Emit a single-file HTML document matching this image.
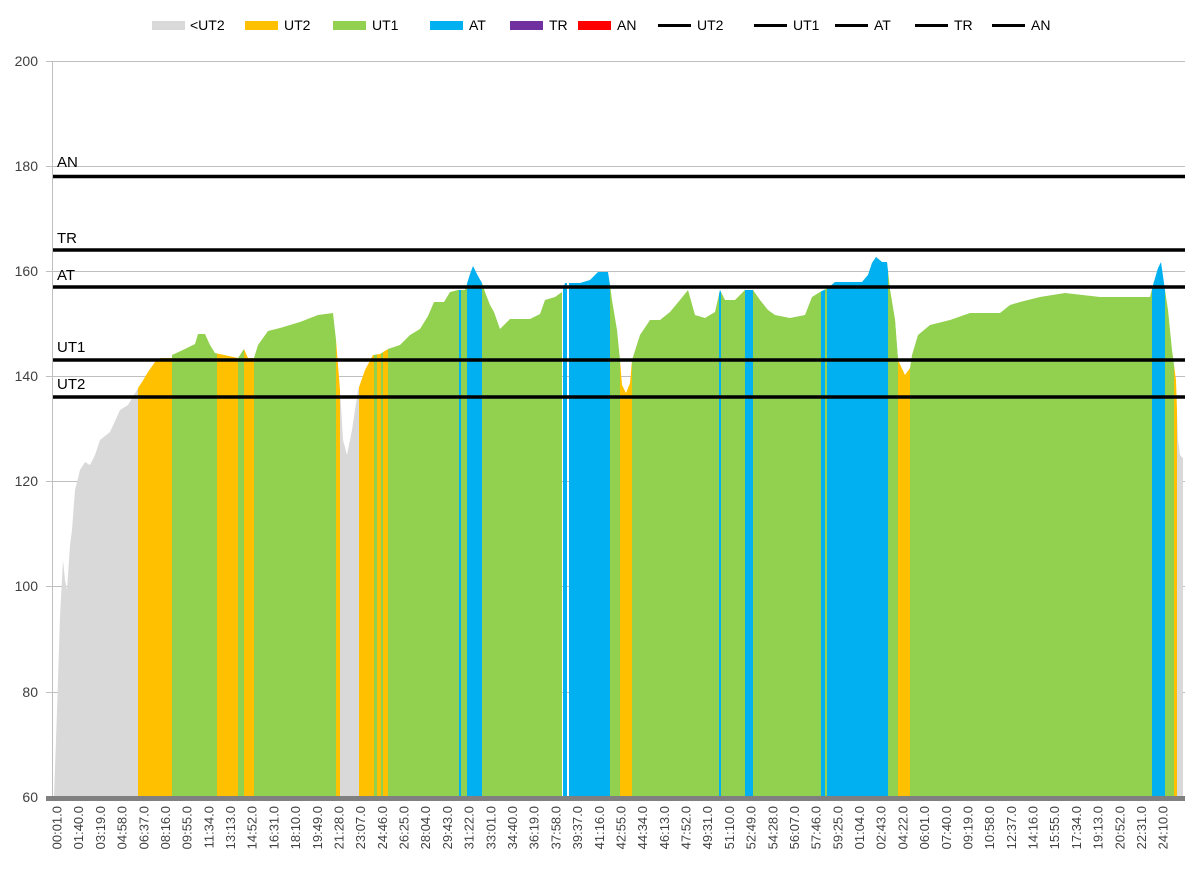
<!DOCTYPE html>
<html><head><meta charset="utf-8"><style>html,body{margin:0;padding:0;background:#fff}svg{display:block;font-family:"Liberation Sans",sans-serif}</style></head><body>
<svg width="1200" height="870" viewBox="0 0 1200 870" xmlns="http://www.w3.org/2000/svg">
<defs><clipPath id="area"><polygon points="
54,797 56,740 58,680 60,617 63,560 65,580 67,590 70,545 72,530 75,490 80,470 85,462 90,465 95,455 100,440 110,432 120,410 128,405 137,390
138,388 142,382 148,372 155,362 160,358 172,358 172,355 185,349 195,344 198,334 205,334 210,345 215,353 238,358 244,349 248,358 254,358
258,345 268,331 280,328 290,325 300,322 318,315 333,313 336,340 340,390 343,440 347,455 352,430 358,390 365,370 373,355 380,354 388,349
400,345 410,335 420,329 428,316 434,302 444,302 450,292 458,290 465,290 470,274 473,266 478,276 482,283 485,292 490,305 494,312 500,329 510,319 530,319 540,314 545,300 555,297 562,292
565,283 580,283 590,280 598,272 608,272 610,285 612,300 617,330 620,360 622,385 626,393 630,383 632,360 640,335 650,320 660,320 670,312 680,300 688,290 695,315 705,318 715,312 720,290 725,300 735,300 745,290 753,290 760,300 768,310 775,315 790,318 805,315 812,297 820,292
828,288 835,282 862,282 868,275 872,263 876,257 882,262 887,262 890,290 895,320 898,360 905,375 910,368 912,355 918,335 930,325 950,320 970,313 1000,313 1010,305 1020,302 1040,297 1065,293 1100,297 1150,297
1153,285 1158,268 1161,262 1165,290 1168,310 1172,350 1176,380 1178,440 1180,455 1183,458 1183,797"/></clipPath></defs>
<g font-size="14" fill="#000">
<rect x="152" y="21" width="33" height="9" fill="#d9d9d9"/><text x="190" y="30">&lt;UT2</text>
<rect x="245" y="21" width="33" height="9" fill="#ffc000"/><text x="284" y="30">UT2</text>
<rect x="333" y="21" width="33" height="9" fill="#92d050"/><text x="372" y="30">UT1</text>
<rect x="430" y="21" width="33" height="9" fill="#00b0f0"/><text x="469" y="30">AT</text>
<rect x="510" y="21" width="33" height="9" fill="#7030a0"/><text x="549" y="30">TR</text>
<rect x="578" y="21" width="33" height="9" fill="#ff0000"/><text x="617" y="30">AN</text>
<rect x="658" y="24" width="33" height="3" fill="#000"/><text x="697" y="30">UT2</text>
<rect x="754" y="24" width="33" height="3" fill="#000"/><text x="793" y="30">UT1</text>
<rect x="835" y="24" width="33" height="3" fill="#000"/><text x="874" y="30">AT</text>
<rect x="915" y="24" width="33" height="3" fill="#000"/><text x="954" y="30">TR</text>
<rect x="992" y="24" width="33" height="3" fill="#000"/><text x="1031" y="30">AN</text>
</g>
<g stroke="#bfbfbf" stroke-width="1">
<line x1="46" x2="1185" y1="61.5" y2="61.5"/><line x1="46" x2="1185" y1="166.5" y2="166.5"/><line x1="46" x2="1185" y1="271.5" y2="271.5"/><line x1="46" x2="1185" y1="376.5" y2="376.5"/><line x1="46" x2="1185" y1="481.5" y2="481.5"/><line x1="46" x2="1185" y1="586.5" y2="586.5"/><line x1="46" x2="1185" y1="692.5" y2="692.5"/>
<line x1="52.5" x2="52.5" y1="61" y2="797"/>
</g>
<g font-size="14" text-anchor="end" fill="#404040">
<text x="38" y="66">200</text><text x="38" y="171">180</text><text x="38" y="276">160</text><text x="38" y="381">140</text><text x="38" y="486">120</text><text x="38" y="591">100</text><text x="38" y="697">80</text><text x="38" y="802">60</text>
</g>
<g clip-path="url(#area)">
<rect x="52" y="60" width="86" height="740" fill="#d9d9d9"/>
<rect x="138" y="60" width="34" height="740" fill="#ffc000"/>
<rect x="172" y="60" width="45" height="740" fill="#92d050"/>
<rect x="217" y="60" width="21" height="740" fill="#ffc000"/>
<rect x="238" y="60" width="6" height="740" fill="#92d050"/>
<rect x="244" y="60" width="10" height="740" fill="#ffc000"/>
<rect x="254" y="60" width="82" height="740" fill="#92d050"/>
<rect x="336" y="60" width="4" height="740" fill="#ffc000"/>
<rect x="340" y="60" width="19" height="740" fill="#d9d9d9"/>
<rect x="359" y="60" width="15" height="740" fill="#ffc000"/>
<rect x="374" y="60" width="3" height="740" fill="#92d050"/>
<rect x="377" y="60" width="4" height="740" fill="#ffc000"/>
<rect x="381" y="60" width="2" height="740" fill="#92d050"/>
<rect x="383" y="60" width="5" height="740" fill="#ffc000"/>
<rect x="388" y="60" width="79" height="740" fill="#92d050"/>
<rect x="459" y="60" width="2" height="740" fill="#00b0f0"/>
<rect x="467" y="60" width="15" height="740" fill="#00b0f0"/>
<rect x="482" y="60" width="80" height="740" fill="#92d050"/>
<rect x="563" y="60" width="4" height="740" fill="#00b0f0"/>
<rect x="569" y="60" width="41" height="740" fill="#00b0f0"/>
<rect x="610" y="60" width="10" height="740" fill="#92d050"/>
<rect x="620" y="60" width="12" height="740" fill="#ffc000"/>
<rect x="632" y="60" width="266" height="740" fill="#92d050"/>
<rect x="719" y="60" width="2" height="740" fill="#00b0f0"/>
<rect x="745" y="60" width="8" height="740" fill="#00b0f0"/>
<rect x="821" y="60" width="4" height="740" fill="#00b0f0"/>
<rect x="827" y="60" width="61" height="740" fill="#00b0f0"/>
<rect x="888" y="60" width="10" height="740" fill="#92d050"/>
<rect x="898" y="60" width="12" height="740" fill="#ffc000"/>
<rect x="910" y="60" width="242" height="740" fill="#92d050"/>
<rect x="1152" y="60" width="13" height="740" fill="#00b0f0"/>
<rect x="1165" y="60" width="9" height="740" fill="#92d050"/>
<rect x="1174" y="60" width="3" height="740" fill="#ffc000"/>
<rect x="1177" y="60" width="6" height="740" fill="#d9d9d9"/>
</g>
<g stroke="#000" stroke-width="3.5">
<line x1="53" x2="1185" y1="176.5" y2="176.5"/>
<line x1="53" x2="1185" y1="250" y2="250"/>
<line x1="53" x2="1185" y1="287" y2="287"/>
<line x1="53" x2="1185" y1="360" y2="360"/>
<line x1="53" x2="1185" y1="397" y2="397"/>
</g>
<g font-size="15" fill="#000">
<text x="57" y="167">AN</text><text x="57" y="243">TR</text><text x="57" y="280">AT</text><text x="57" y="352">UT1</text><text x="57" y="389">UT2</text>
</g>
<rect x="46" y="796" width="1139" height="5" fill="#808080"/>
<g font-size="13" fill="#404040" text-anchor="end">
<text transform="translate(61.5,806) rotate(-90)">00:01.0</text>
<text transform="translate(83.2,806) rotate(-90)">01:40.0</text>
<text transform="translate(104.9,806) rotate(-90)">03:19.0</text>
<text transform="translate(126.6,806) rotate(-90)">04:58.0</text>
<text transform="translate(148.3,806) rotate(-90)">06:37.0</text>
<text transform="translate(169.9,806) rotate(-90)">08:16.0</text>
<text transform="translate(191.6,806) rotate(-90)">09:55.0</text>
<text transform="translate(213.3,806) rotate(-90)">11:34.0</text>
<text transform="translate(235.0,806) rotate(-90)">13:13.0</text>
<text transform="translate(256.7,806) rotate(-90)">14:52.0</text>
<text transform="translate(278.4,806) rotate(-90)">16:31.0</text>
<text transform="translate(300.1,806) rotate(-90)">18:10.0</text>
<text transform="translate(321.8,806) rotate(-90)">19:49.0</text>
<text transform="translate(343.5,806) rotate(-90)">21:28.0</text>
<text transform="translate(365.2,806) rotate(-90)">23:07.0</text>
<text transform="translate(386.9,806) rotate(-90)">24:46.0</text>
<text transform="translate(408.5,806) rotate(-90)">26:25.0</text>
<text transform="translate(430.2,806) rotate(-90)">28:04.0</text>
<text transform="translate(451.9,806) rotate(-90)">29:43.0</text>
<text transform="translate(473.6,806) rotate(-90)">31:22.0</text>
<text transform="translate(495.3,806) rotate(-90)">33:01.0</text>
<text transform="translate(517.0,806) rotate(-90)">34:40.0</text>
<text transform="translate(538.7,806) rotate(-90)">36:19.0</text>
<text transform="translate(560.4,806) rotate(-90)">37:58.0</text>
<text transform="translate(582.1,806) rotate(-90)">39:37.0</text>
<text transform="translate(603.8,806) rotate(-90)">41:16.0</text>
<text transform="translate(625.4,806) rotate(-90)">42:55.0</text>
<text transform="translate(647.1,806) rotate(-90)">44:34.0</text>
<text transform="translate(668.8,806) rotate(-90)">46:13.0</text>
<text transform="translate(690.5,806) rotate(-90)">47:52.0</text>
<text transform="translate(712.2,806) rotate(-90)">49:31.0</text>
<text transform="translate(733.9,806) rotate(-90)">51:10.0</text>
<text transform="translate(755.6,806) rotate(-90)">52:49.0</text>
<text transform="translate(777.3,806) rotate(-90)">54:28.0</text>
<text transform="translate(799.0,806) rotate(-90)">56:07.0</text>
<text transform="translate(820.7,806) rotate(-90)">57:46.0</text>
<text transform="translate(842.3,806) rotate(-90)">59:25.0</text>
<text transform="translate(864.0,806) rotate(-90)">01:04.0</text>
<text transform="translate(885.7,806) rotate(-90)">02:43.0</text>
<text transform="translate(907.4,806) rotate(-90)">04:22.0</text>
<text transform="translate(929.1,806) rotate(-90)">06:01.0</text>
<text transform="translate(950.8,806) rotate(-90)">07:40.0</text>
<text transform="translate(972.5,806) rotate(-90)">09:19.0</text>
<text transform="translate(994.2,806) rotate(-90)">10:58.0</text>
<text transform="translate(1015.9,806) rotate(-90)">12:37.0</text>
<text transform="translate(1037.6,806) rotate(-90)">14:16.0</text>
<text transform="translate(1059.2,806) rotate(-90)">15:55.0</text>
<text transform="translate(1080.9,806) rotate(-90)">17:34.0</text>
<text transform="translate(1102.6,806) rotate(-90)">19:13.0</text>
<text transform="translate(1124.3,806) rotate(-90)">20:52.0</text>
<text transform="translate(1146.0,806) rotate(-90)">22:31.0</text>
<text transform="translate(1167.7,806) rotate(-90)">24:10.0</text>
</g>
</svg>
</body></html>
